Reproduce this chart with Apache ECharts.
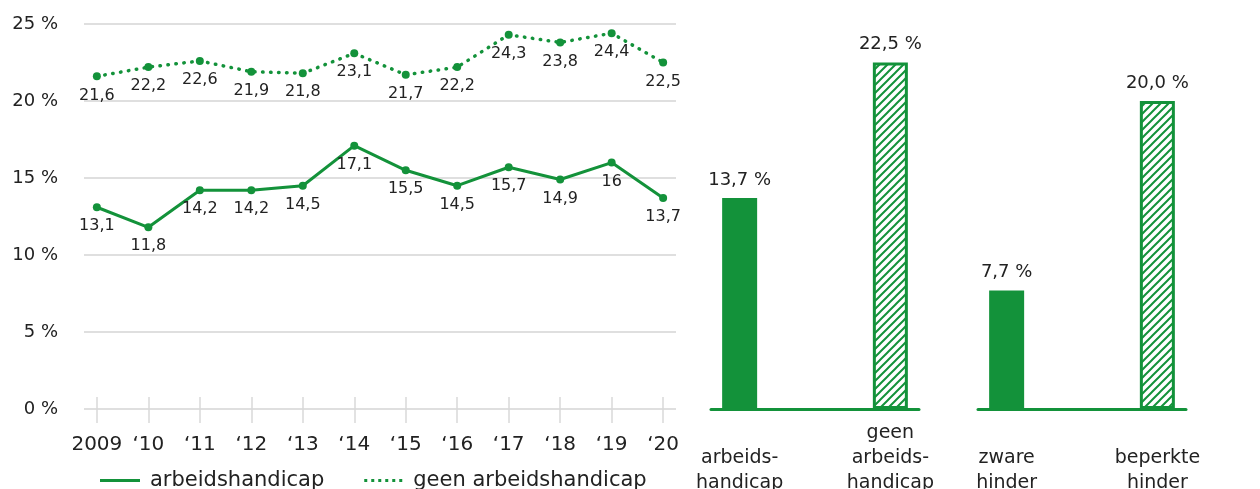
<!DOCTYPE html>
<html>
<head>
<meta charset="utf-8">
<script src="https://cdn.jsdelivr.net/npm/echarts@6/dist/echarts.min.js"></script>
<style>
  html, body { margin: 0; padding: 0; background: #fff; }
  #main { width: 1260px; height: 489px; }
</style>
</head>
<body>
<div id="main"></div>
<script>
  // data
  var years = ['2009', '\u201810', '\u201811', '\u201812', '\u201813', '\u201814', '\u201815', '\u201816', '\u201817', '\u201818', '\u201819', '\u201820']
  var withHandicap = [13.1, 11.8, 14.2, 14.2, 14.5, 17.1, 15.5, 14.5, 15.7, 14.9, 16, 13.7]
  var withoutHandicap = [21.6, 22.2, 22.6, 21.9, 21.8, 23.1, 21.7, 22.2, 24.3, 23.8, 24.4, 22.5]
  var groupCats = ['arbeids-\nhandicap', 'geen\narbeids-\nhandicap']
  var groupValues = [13.7, 22.5]
  var hinderCats = ['zware\nhinder', 'beperkte\nhinder']
  var hinderValues = [7.7, 20.0]

  var green = '#13923a'
  var textColor = '#222'
  var font = 'DejaVu Sans'

  // diagonal hatch pattern
  function hatch () {
    var c = document.createElement('canvas')
    c.width = 8
    c.height = 8
    var ctx = c.getContext('2d')
    ctx.fillStyle = '#fff'
    ctx.fillRect(0, 0, 8, 8)
    ctx.strokeStyle = green
    ctx.lineWidth = 2
    ctx.beginPath()
    ctx.moveTo(-2, 10); ctx.lineTo(10, -2)
    ctx.moveTo(-2, 2); ctx.lineTo(2, -2)
    ctx.moveTo(6, 10); ctx.lineTo(10, 6)
    ctx.stroke()
    return c
  }
  var pattern = { image: hatch(), repeat: 'repeat' }

  function idx (arr) {
    return arr.map(function (v, i) { return i })
  }
  function pairs (arr) {
    return arr.map(function (v, i) { return [i, v] })
  }
  function barData (arr) {
    return arr.map(function (v, i) {
      if (i === 1) {
        return { value: [i, v], itemStyle: { color: pattern, borderColor: green, borderWidth: 3 } }
      }
      return { value: [i, v], itemStyle: { color: green } }
    })
  }
  function barAxis (gridIndex, cats) {
    return {
      type: 'value',
      gridIndex: gridIndex,
      min: -0.19,
      max: 1.19,
      splitLine: { show: false },
      axisTick: { show: false },
      axisLine: { show: true, lineStyle: { color: green, width: 3 } },
      axisLabel: {
        customValues: idx(cats),
        formatter: function (v) { return cats[Math.round(v)] },
        color: textColor,
        fontFamily: font,
        fontSize: 19,
        lineHeight: 25,
        verticalAlign: 'bottom',
        margin: 87
      }
    }
  }
  function hiddenY (gridIndex) {
    return { type: 'value', gridIndex: gridIndex, min: 0, max: 25, show: false }
  }
  function pctLabel (p) {
    return p.value[1].toFixed(1).replace('.', ',') + ' %'
  }
  function lineLabel (p) {
    return String(p.value[1]).replace('.', ',')
  }

  var chart = echarts.init(document.getElementById('main'))
  chart.setOption({
    animation: false,
    textStyle: { fontFamily: font },
    grid: [
      { left: 84, width: 592, top: 24, height: 385, outerBoundsMode: 'none' },
      { left: 711, width: 208, top: 24, height: 385, outerBoundsMode: 'none' },
      { left: 978, width: 208, top: 24, height: 385, outerBoundsMode: 'none' }
    ],
    legend: {
      left: 95,
      top: 465,
      itemWidth: 40,
      itemHeight: 3,
      itemGap: 40,
      textStyle: { color: textColor, fontFamily: font, fontSize: 21, padding: [0, 0, 0, 5] },
      data: [
        { name: 'arbeidshandicap', icon: 'path://M0,0H40V3H0Z' },
        { name: 'geen arbeidshandicap', icon: 'path://M0,0h3v3h-3zM7,0h3v3h-3zM14,0h3v3h-3zM21,0h3v3h-3zM28,0h3v3h-3zM35,0h3v3h-3z' }
      ]
    },
    xAxis: [
      {
        type: 'value',
        gridIndex: 0,
        min: -0.25,
        max: 11.25,
        splitLine: { show: false },
        axisLine: { show: false },
        axisTick: { show: true, customValues: idx(years), length: 14, lineStyle: { color: '#d9d9d9', width: 1.5 } },
        axisLabel: {
          customValues: idx(years),
          formatter: function (v) { return years[Math.round(v)] },
          color: textColor,
          fontFamily: font,
          fontSize: 20,
          margin: 26
        }
      },
      {
        type: 'value',
        gridIndex: 0,
        position: 'bottom',
        min: -0.25,
        max: 11.25,
        splitLine: { show: false },
        axisLine: { show: false },
        axisTick: { show: true, inside: true, customValues: idx(years), length: 12, lineStyle: { color: '#d9d9d9', width: 1.5 } },
        axisLabel: { show: false }
      },
      barAxis(1, groupCats),
      barAxis(2, hinderCats)
    ],
    yAxis: [
      {
        type: 'value',
        gridIndex: 0,
        min: 0,
        max: 25,
        interval: 5,
        axisLine: { show: false },
        axisTick: { show: false },
        splitLine: { lineStyle: { color: '#d4d4d4', width: 1.5 } },
        axisLabel: {
          formatter: '{value} %',
          color: textColor,
          fontFamily: font,
          fontSize: 18,
          margin: 26
        }
      },
      hiddenY(1),
      hiddenY(2)
    ],
    series: [
      {
        name: 'arbeidshandicap',
        type: 'line',
        xAxisIndex: 0,
        yAxisIndex: 0,
        data: pairs(withHandicap),
        color: green,
        symbol: 'circle',
        symbolSize: 8,
        lineStyle: { width: 3 },
        label: { show: true, position: 'bottom', distance: 7, color: textColor, fontSize: 16, formatter: lineLabel }
      },
      {
        name: 'geen arbeidshandicap',
        type: 'line',
        xAxisIndex: 0,
        yAxisIndex: 0,
        data: pairs(withoutHandicap),
        color: green,
        symbol: 'circle',
        symbolSize: 8,
        lineStyle: { width: 3.5, type: [0.5, 7.5], cap: 'round' },
        label: { show: true, position: 'bottom', distance: 7, color: textColor, fontSize: 16, formatter: lineLabel }
      },
      {
        type: 'bar',
        xAxisIndex: 2,
        yAxisIndex: 1,
        barWidth: 35,
        data: barData(groupValues),
        label: { show: true, position: 'top', distance: 9, color: textColor, fontSize: 18, formatter: pctLabel }
      },
      {
        type: 'bar',
        xAxisIndex: 3,
        yAxisIndex: 2,
        barWidth: 35,
        data: barData(hinderValues),
        label: { show: true, position: 'top', distance: 9, color: textColor, fontSize: 18, formatter: pctLabel }
      }
    ]
  })
</script>
</body>
</html>
